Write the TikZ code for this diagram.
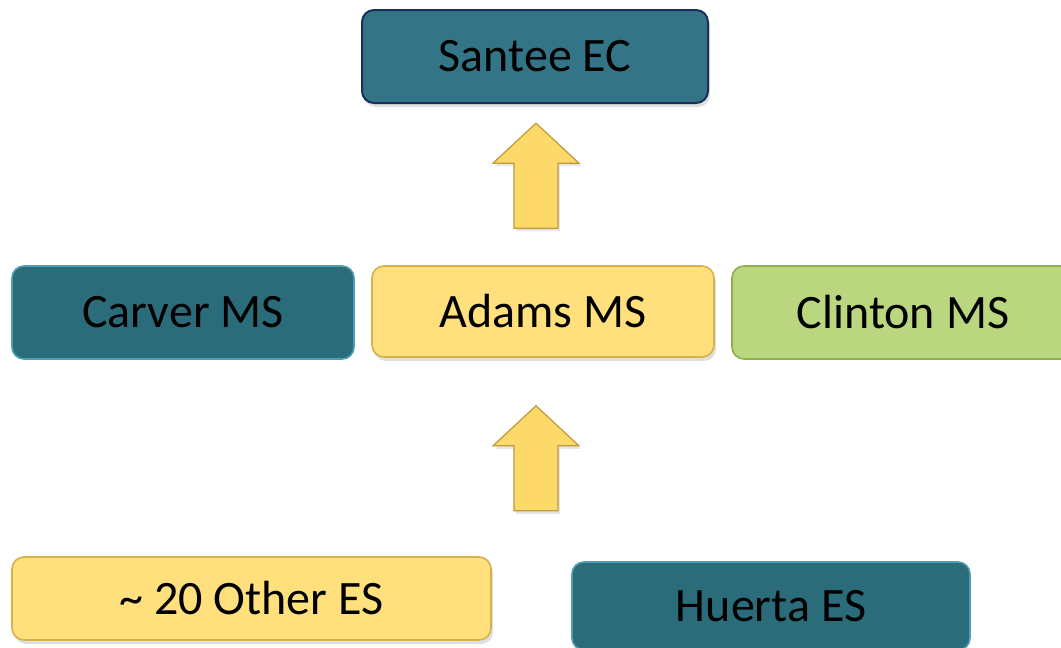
\documentclass[tikz,border=0pt]{standalone}
\usepackage{fontspec}
\setmainfont{Carlito}
\usetikzlibrary{positioning,shadows}
\definecolor{tealfill}{HTML}{2B6C7B}
\definecolor{tealedge}{HTML}{4E9DB2}
\definecolor{santeefill}{HTML}{337586}
\definecolor{santeeedge}{HTML}{1B2F5E}
\definecolor{goldfill}{HTML}{FFE07C}
\definecolor{goldedge}{HTML}{D6B24E}
\definecolor{greenfill}{HTML}{BAD67F}
\definecolor{greenedge}{HTML}{8DB04F}
\definecolor{arrowfill}{HTML}{FDD96A}
\definecolor{arrowedge}{HTML}{BF9A3A}

\begin{document}
\begin{tikzpicture}[x=0.5pt,y=-0.5pt,
	schoolbox/.style={rounded corners=6pt, line width=0.8pt, inner sep=0pt,
		minimum width=171pt, minimum height=46pt,
		font=\fontsize{24}{28}\selectfont, text=black},
	tealbox/.style={schoolbox, fill=tealfill, draw=tealedge},
	topbox/.style={schoolbox, fill=santeefill, draw=santeeedge, line width=1pt,
		drop shadow={opacity=0.25, shadow xshift=1pt, shadow yshift=-2pt}},
	goldbox/.style={schoolbox, fill=goldfill, draw=goldedge,
		drop shadow={opacity=0.25, shadow xshift=1pt, shadow yshift=-2pt}},
	greenbox/.style={schoolbox, fill=greenfill, draw=greenedge},
	uparrow/.style={fill=arrowfill, draw=arrowedge, line width=0.6pt, line join=miter,
		drop shadow={opacity=0.2, shadow xshift=1pt, shadow yshift=-1.5pt}}]
	\newcommand\UpArrow{+(-22,0) -- +(-22,-65) -- +(-43,-65) -- +(0,-105) -- +(43,-65) -- +(22,-65) -- +(22,0) -- cycle}

	\clip (0,0) rectangle (1061,648);

	\node (santee) [topbox, minimum width=173pt, minimum height=46.5pt] at (535,56.5) {Santee EC};

	\node (adams) [goldbox, minimum height=45.5pt] at (543,311.5) {Adams MS};
	\node (carver) [tealbox, minimum height=46.5pt] at (183,312.5) {Carver MS};
	\node (clinton) [greenbox, minimum height=46.5pt] at (903,312.5) {Clinton MS};

	\node (others) [goldbox, minimum width=239.5pt, minimum height=41.5pt] at (251.5,598.5) {\textasciitilde{} 20 Other ES};
	\node (huerta) [tealbox, minimum width=199pt, minimum height=44pt] at (771,606) {Huerta ES};

	\coordinate (foot1) at ([xshift=-3.5pt,yshift=18.5pt]adams.north);
	\coordinate (foot2) at ([xshift=-3.5pt,yshift=-76.5pt]adams.south);
	\draw[uparrow] (foot1) \UpArrow;
	\draw[uparrow] (foot2) \UpArrow;
\end{tikzpicture}
\end{document}
